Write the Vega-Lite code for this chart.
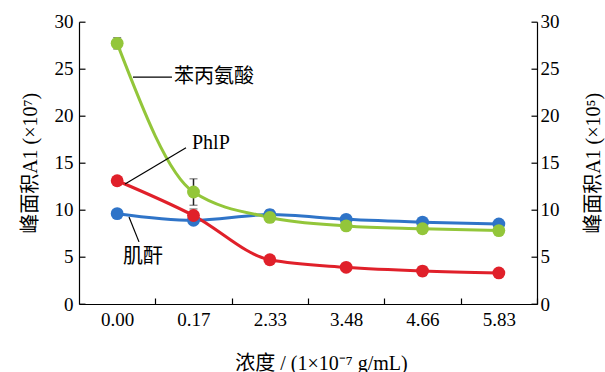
{
  "$schema": "https://vega.github.io/schema/vega-lite/v6.json",
  "width": 458,
  "height": 282.3,
  "autosize": "none",
  "padding": {"left": 79, "top": 21.7, "right": 68, "bottom": 68},
  "background": "white",
  "config": {
    "view": {"stroke": null},
    "font": "Liberation Serif, Noto Sans CJK SC",
    "axis": {
      "grid": false,
      "domainColor": "#000",
      "domainWidth": 1.2,
      "tickColor": "#000",
      "tickWidth": 1.2,
      "labelColor": "#000",
      "labelFont": "Liberation Serif",
      "labelFontSize": 19,
      "titleColor": "#000",
      "titleFont": "Liberation Serif, Noto Sans CJK SC",
      "titleFontSize": 19,
      "titleFontWeight": "normal"
    }
  },
  "datasets": {
    "pts": [
      {"idx": 0, "conc": "0.00", "series": "肌酐", "value": 9.6, "err": 0.2},
      {"idx": 1, "conc": "0.17", "series": "肌酐", "value": 8.9, "err": 0.3},
      {"idx": 2, "conc": "2.33", "series": "肌酐", "value": 9.5, "err": 0.5},
      {"idx": 3, "conc": "3.48", "series": "肌酐", "value": 9.0, "err": 0.2},
      {"idx": 4, "conc": "4.66", "series": "肌酐", "value": 8.7, "err": 0.2},
      {"idx": 5, "conc": "5.83", "series": "肌酐", "value": 8.5, "err": 0.2},
      {"idx": 0, "conc": "0.00", "series": "PhlP", "value": 13.1, "err": 0.3},
      {"idx": 1, "conc": "0.17", "series": "PhlP", "value": 9.4, "err": 0.7},
      {"idx": 2, "conc": "2.33", "series": "PhlP", "value": 4.7, "err": 0.4},
      {"idx": 3, "conc": "3.48", "series": "PhlP", "value": 3.9, "err": 0.3},
      {"idx": 4, "conc": "4.66", "series": "PhlP", "value": 3.5, "err": 0.5},
      {"idx": 5, "conc": "5.83", "series": "PhlP", "value": 3.3, "err": 0.3},
      {"idx": 0, "conc": "0.00", "series": "苯丙氨酸", "value": 27.7, "err": 0.6},
      {"idx": 1, "conc": "0.17", "series": "苯丙氨酸", "value": 11.9, "err": 1.4},
      {"idx": 2, "conc": "2.33", "series": "苯丙氨酸", "value": 9.2, "err": 0.5},
      {"idx": 3, "conc": "3.48", "series": "苯丙氨酸", "value": 8.3, "err": 0.2},
      {"idx": 4, "conc": "4.66", "series": "苯丙氨酸", "value": 8.0, "err": 0.2},
      {"idx": 5, "conc": "5.83", "series": "苯丙氨酸", "value": 7.8, "err": 0.2}
    ],
    "leaders": [
      {"label": "苯丙氨酸", "x": 0.207, "y": 24.1, "x2": 0.718, "y2": 24.1},
      {"label": "PhlP", "x": 0.103, "y": 12.75, "x2": 0.902, "y2": 16.6},
      {"label": "肌酐", "x": 0.155, "y": 9.25, "x2": 0.286, "y2": 6.6}
    ],
    "notes": [
      {"label": "苯丙氨酸", "x": 0.745, "y": 24.1},
      {"label": "PhlP", "x": 0.98, "y": 17.1},
      {"label": "肌酐", "x": 0.076, "y": 5.0}
    ]
  },
  "layer": [
    {
      "layer": [
        {
          "data": {"name": "pts"},
          "mark": {"type": "errorbar", "ticks": {"size": 8, "color": "#222"}, "rule": {"color": "#222", "strokeWidth": 1.5}},
          "encoding": {
            "x": {"field": "idx", "type": "quantitative", "title": "浓度 / (1×10⁻⁷ g/mL)"},
            "y": {"field": "value", "type": "quantitative", "title": "峰面积A1 (×10⁷)"},
            "yError": {"field": "err"},
            "detail": {"field": "series"}
          }
        },
        {
          "data": {"name": "pts"},
          "mark": {"type": "line", "interpolate": "monotone", "strokeWidth": 3},
          "encoding": {
            "x": {
              "field": "idx", "type": "quantitative",
              "scale": {"domain": [-0.5, 5.5], "nice": false, "zero": false},
              "axis": {
                "values": [0.5, 1.5, 2.5, 3.5, 4.5, 5.5],
                "labelExpr": "['0.00','0.17','2.33','3.48','4.66','5.83'][round(datum.value - 0.5)]",
                "labelOffset": -38.17,
                "labelFlush": false,
                "labelOverlap": false,
                "labelBound": false,
                "tickSize": -6,
                "labelPadding": 12,
                "title": "浓度 / (1×10⁻⁷ g/mL)",
                "titlePadding": 24,
                "titleFontSize": 20,
                "titleX": 242
              }
            },
            "y": {
              "field": "value", "type": "quantitative",
              "scale": {"domain": [0, 30], "nice": false},
              "axis": {
                "values": [0, 5, 10, 15, 20, 25, 30],
                "tickSize": -6,
                "labelPadding": 12,
                "title": "峰面积A1 (×10⁷)",
                "titlePadding": 14,
                "titleFontSize": 20
              }
            },
            "color": {
              "field": "series", "type": "nominal",
              "scale": {"domain": ["肌酐", "PhlP", "苯丙氨酸"], "range": ["#2f74c8", "#e0202a", "#93c63a"]},
              "legend": null
            }
          }
        },
        {
          "data": {"name": "pts"},
          "mark": {"type": "point", "filled": true, "opacity": 1, "size": 165},
          "encoding": {
            "x": {"field": "idx", "type": "quantitative"},
            "y": {"field": "value", "type": "quantitative"},
            "color": {"field": "series", "type": "nominal", "legend": null}
          }
        },
        {
          "data": {"name": "leaders"},
          "mark": {"type": "rule", "color": "#000", "strokeWidth": 1.2},
          "encoding": {
            "x": {"field": "x", "type": "quantitative"},
            "y": {"field": "y", "type": "quantitative"},
            "x2": {"field": "x2"},
            "y2": {"field": "y2"}
          }
        },
        {
          "data": {"name": "notes"},
          "mark": {"type": "text", "align": "left", "baseline": "middle", "fontSize": 20, "color": "#000", "font": "Liberation Serif, Noto Sans CJK SC"},
          "encoding": {
            "x": {"field": "x", "type": "quantitative"},
            "y": {"field": "y", "type": "quantitative"},
            "text": {"field": "label"}
          }
        }
      ]
    },
    {
      "data": {"name": "pts"},
      "mark": {"type": "point", "opacity": 0},
      "encoding": {
        "y": {
          "field": "value", "type": "quantitative",
          "scale": {"domain": [0, 30], "nice": false},
          "axis": {
            "orient": "right",
            "values": [0, 5, 10, 15, 20, 25, 30],
            "tickSize": -6,
            "labelPadding": 9,
            "title": "峰面积A1 (×10⁵)",
            "titleAngle": 270,
            "titlePadding": 44,
            "titleFontSize": 20
          }
        }
      }
    }
  ],
  "resolve": {"scale": {"y": "independent"}}
}
